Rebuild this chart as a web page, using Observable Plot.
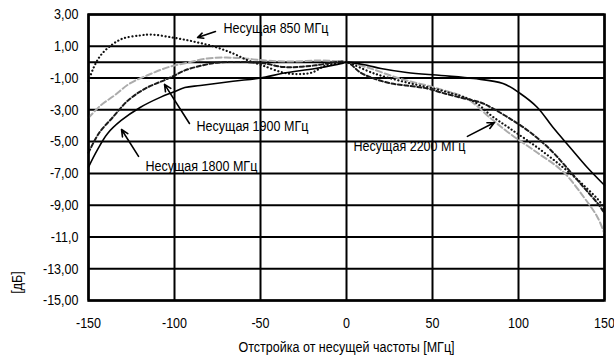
<!DOCTYPE html>
<html><head><meta charset="utf-8">
<script src="https://cdn.jsdelivr.net/npm/d3@7"></script>
<script src="https://cdn.jsdelivr.net/npm/@observablehq/plot@0.6"></script>
<style>
body{margin:0;background:#fff;}
</style></head><body><div id="chart"></div>
<script>
// Tick values and labels
const xTicks = [-150, -100, -50, 0, 50, 100, 150];
const xTickLabels = ["-150", "-100", "-50", "0", "50", "100", "150"];
const yTicks = [3, 1, -1, -3, -5, -7, -9, -11, -13, -15];
const yTickLabels = ["3,00", "1,00", "-1,00", "-3,00", "-5,00", "-7,00", "-9,00", "-11,0", "-13,00", "-15,00"];
const gridY = [3, 1, 0, -1, -3, -5, -7, -9, -11, -13, -15];
const gridX = [-150, -100, -50, 0, 50, 100, 150];

// Series: Несущая 850 МГц (dotted)
const s850x = [-150, -147, -143, -137, -130, -120, -114, -101, -89, -77, -66, -57, -49, -37, -28, -20, -12, -2, 0, 16, 35, 55, 74, 84, 95, 111, 126, 138, 148, 150];
const s850y = [-1.2, -0.34, 0.42, 1.05, 1.49, 1.68, 1.74, 1.55, 1.3, 0.98, 0.55, 0.1, -0.2, -0.65, -0.75, -0.65, -0.2, -0.02, 0, -0.71, -1.28, -1.78, -2.47, -3.35, -4.17, -5.37, -6.63, -7.76, -8.89, -9.4];
// Несущая 1800 МГц (solid)
const s1800x = [-150, -145, -139, -131, -120, -108, -101, -94, -85, -66, -50, -37, -18, -2, 0, 12, 20, 35, 55, 74, 91, 101, 111, 120, 130, 140, 149, 150];
const s1800y = [-6.6, -5.55, -4.5, -3.67, -2.85, -2.2, -1.9, -1.6, -1.47, -1.2, -1.0, -0.7, -0.4, -0.06, 0, -0.2, -0.4, -0.65, -0.84, -1.03, -1.34, -1.97, -2.85, -4.1, -5.37, -6.63, -7.64, -7.75];
// Несущая 1900 МГц (dark dashed)
const s1900x = [-150, -144, -136, -127, -117, -105, -100, -94, -84, -74, -50, -37, -28, -18, 0, 8, 16, 26, 35, 47, 55, 66, 78, 84, 95, 107, 119, 128, 138, 146, 150];
const s1900y = [-5.7, -4.48, -3.48, -2.41, -1.66, -1.09, -0.84, -0.52, -0.21, -0.02, -0.05, -0.3, -0.3, -0.2, 0, -0.65, -1.03, -1.34, -1.47, -1.66, -1.91, -2.22, -2.54, -2.85, -3.55, -4.43, -5.56, -6.63, -7.89, -8.89, -9.5];
// Несущая 2200 МГц (light grey dashed)
const s2200x = [-150, -143, -135, -126, -116, -104, -92, -81, -70, -59, -47, -33, -15, 0, 12, 31, 51, 70, 84, 95, 111, 126, 138, 146, 150];
const s2200y = [-3.5, -2.73, -2.1, -1.34, -0.84, -0.33, -0.02, 0.23, 0.29, 0.23, 0.1, 0.04, 0.1, 0, -0.33, -1.03, -1.6, -2.3, -3.55, -4.5, -5.7, -6.9, -8.5, -9.77, -10.8];

// Annotations
const labelText = ["Несущая 850 МГц", "Несущая 1900 МГц", "Несущая 1800 МГц", "Несущая 2200 МГц"];
const labelX = [-71.5, -87.2, -116.9, 4.1];
const labelY = [2.12, -4.0, -6.56, -5.3];
const arrowX1 = [-76.2, -91.3, -120.9, 70.3];
const arrowY1 = [1.93, -3.86, -5.93, -4.67];
const arrowX2 = [-86.6, -105.8, -130.8, 86];
const arrowY2 = [1.55, -1.4, -4.24, -3.8];

const xTitle = "Отстройка от несущей частоты [МГц]";
const yTitle = "[дБ]";

// Font: regular sans at 15px, horizontally condensed so a label matches the reference width
const ctx = document.createElement("canvas").getContext("2d");
const probe = "Несущая 1900 МГц";
function has(f) {
  ctx.font = "40px monospace"; const a = ctx.measureText(probe).width;
  ctx.font = `40px '${f}', monospace`; return ctx.measureText(probe).width !== a;
}
const candidates = ["Liberation Sans", "Roboto", "DejaVu Sans"];
const fam = candidates.find(has) || "sans-serif";
const FS = 15;
ctx.font = `${FS}px '${fam}'`;
const squeeze = Math.min(1, 112 / ctx.measureText(probe).width);
const FONT = `'${fam}', sans-serif`;

const toRows = (xs, ys) => xs.map((x, i) => ({x, y: ys[i]}));
const labels = labelText.map((t, i) => ({t, x: labelX[i], y: labelY[i]}));
const arrows = arrowX1.map((x1, i) => ({x1, y1: arrowY1[i], x2: arrowX2[i], y2: arrowY2[i]}));

const plot = Plot.plot({
  width: 614, height: 357,
  marginLeft: 88, marginRight: 10, marginTop: 14, marginBottom: 57,
  style: {fontFamily: FONT, fontSize: FS + "px", background: "#fff", color: "#000"},
  x: {domain: [-150, 150]},
  y: {domain: [-15, 3]},
  marks: [
    Plot.ruleY(gridY, {stroke: "#000", strokeWidth: 2}),
    Plot.ruleX(gridX, {stroke: "#000", strokeWidth: 2}),
    Plot.line(toRows(s2200x, s2200y), {x: "x", y: "y", curve: "catmull-rom", stroke: "#ababab", strokeWidth: 2, strokeDasharray: "6,3"}),
    Plot.line(toRows(s850x, s850y), {x: "x", y: "y", curve: "catmull-rom", stroke: "#111", strokeWidth: 2.2, strokeDasharray: "0.1,3.6", strokeLinecap: "round"}),
    Plot.line(toRows(s1900x, s1900y), {x: "x", y: "y", curve: "catmull-rom", stroke: "#1a1a1a", strokeWidth: 2, strokeDasharray: "4,2.5"}),
    Plot.line(toRows(s1800x, s1800y), {x: "x", y: "y", curve: "catmull-rom", stroke: "#000", strokeWidth: 1.6}),
    Plot.text(labels, {x: "x", y: "y", text: "t", textAnchor: "start", lineAnchor: "middle", fill: "#000", ariaLabel: "annot"}),
    Plot.arrow(arrows, {x1: "x1", y1: "y1", x2: "x2", y2: "y2", stroke: "#000", strokeWidth: 1.6, headLength: 7, headAngle: 50}),
    Plot.frame({stroke: "#000", strokeWidth: 2.5}),
    Plot.axisX({ticks: xTicks, tickSize: 0, tickPadding: 17, tickFormat: d => xTickLabels[xTicks.indexOf(d)], label: null}),
    Plot.axisY({ticks: yTicks, tickSize: 0, tickPadding: 10, tickFormat: d => yTickLabels[yTicks.indexOf(d)], label: null}),
    Plot.text([xTitle], {frameAnchor: "bottom", dy: 47, lineAnchor: "middle", fill: "#000"}),
    Plot.text([yTitle], {frameAnchor: "bottom-left", dx: -71, dy: -18, rotate: -90, textAnchor: "middle", lineAnchor: "middle", fill: "#000"})
  ]
});
document.getElementById("chart").appendChild(plot);
// condense every text horizontally about its own anchor point
plot.querySelectorAll("text").forEach(t => {
  const ax = parseFloat(t.getAttribute("x") || "0") || 0;
  const tr = t.getAttribute("transform") || "";
  t.setAttribute("transform", `${tr} translate(${ax},0) scale(${squeeze},1) translate(${-ax},0)`.trim());
});
// white boxes behind the annotation labels
plot.querySelectorAll('g[aria-label="annot"] text').forEach(t => {
  const b = t.getBBox();
  const r = document.createElementNS("http://www.w3.org/2000/svg", "rect");
  r.setAttribute("x", b.x - 3); r.setAttribute("y", b.y - 2);
  r.setAttribute("width", b.width + 6); r.setAttribute("height", b.height + 4);
  r.setAttribute("fill", "#fff");
  if (t.getAttribute("transform")) r.setAttribute("transform", t.getAttribute("transform"));
  t.parentNode.insertBefore(r, t);
});
</script></body></html>
